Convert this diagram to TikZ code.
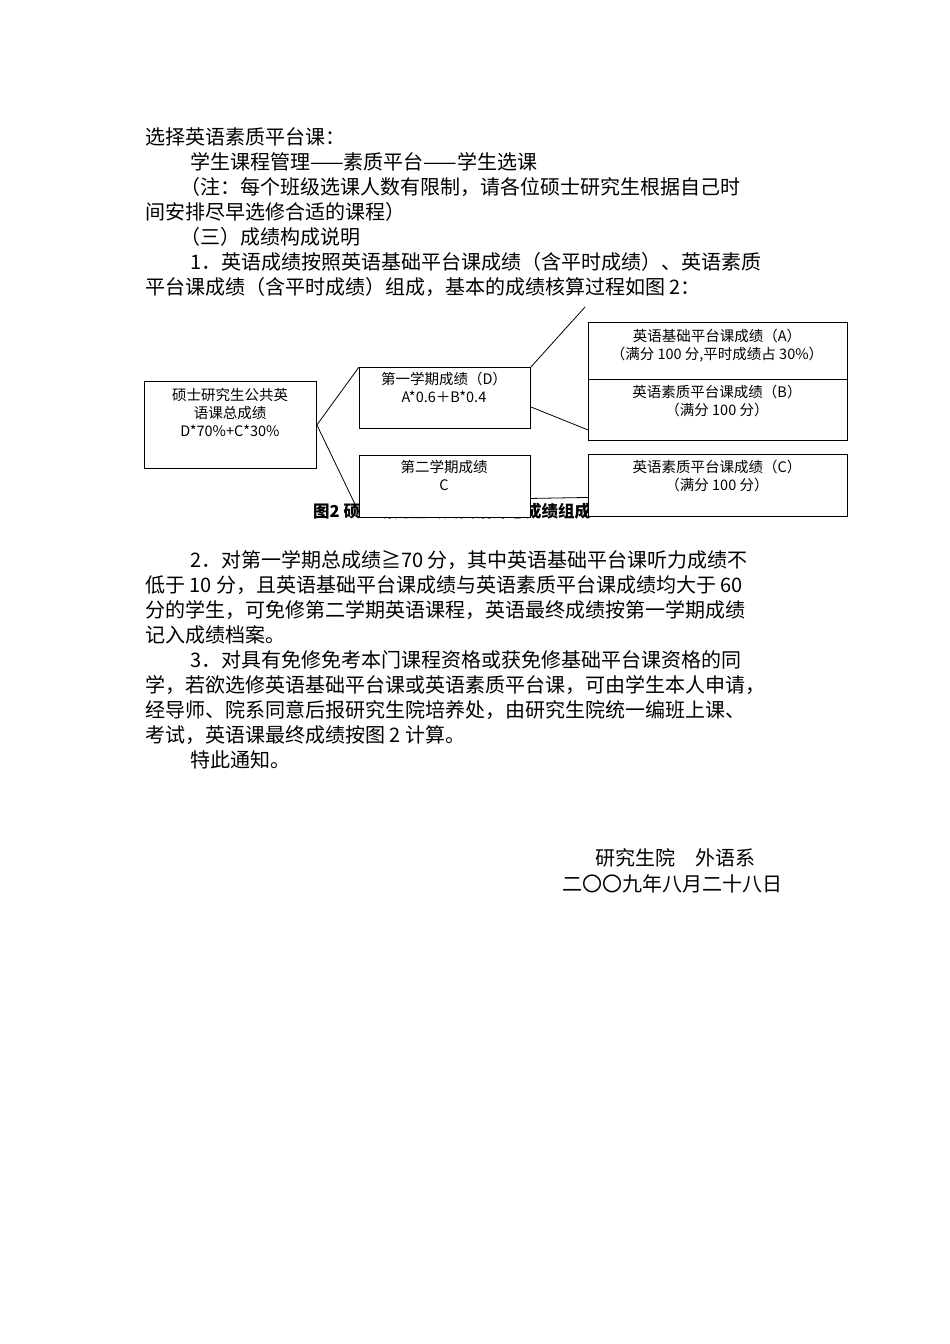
\documentclass[tikz,border=0pt]{standalone}
\usepackage{fontspec}
\setmainfont{Noto Sans CJK SC}
\begin{document}
\begin{tikzpicture}[x=1pt,y=-1pt,
  body/.style={anchor=west,inner sep=0,font=\fontsize{20}{24}\selectfont},
  bx/.style={draw,fill=white,line width=0.9pt,anchor=north west,inner sep=0},
  bt/.style={font=\fontsize{14.5}{18}\selectfont,align=center,anchor=north,inner sep=0},
  ln/.style={line width=0.8pt}]
\useasboundingbox[fill=white] (0,0) rectangle (950,1344);
\node[body] (t1) at (145,137) {选择英语素质平台课：};
\node[body] (t2) at (190,162) {学生课程管理——素质平台——学生选课};
\node[body] (t3) at (180,187) {（注：每个班级选课人数有限制，请各位硕士研究生根据自己时};
\node[body] (t4) at (145,212) {间安排尽早选修合适的课程）};
\node[body] (t5) at (180,237) {（三）成绩构成说明};
\node[body] (t6) at (190,262) {1．英语成绩按照英语基础平台课成绩（含平时成绩）、英语素质};
\node[body] (t7) at (145,287) {平台课成绩（含平时成绩）组成，基本的成绩核算过程如图 2：};
\node[anchor=west,inner sep=0,font=\fontsize{16.5}{20}\selectfont\bfseries] (cap) at (313,511) {图2 硕士研究生公共英语课总成绩组成};
% boxes
\node[bx,minimum width=172,minimum height=87] (m) at (144,381) {};
\node[bt] at (230,388) {硕士研究生公共英\\语课总成绩\\D*70\%+C*30\%};
\node[bx,minimum width=171,minimum height=61] (d) at (359,367) {};
\node[bt] at (444,372) {第一学期成绩（D）\\A*0.6＋B*0.4};
\node[bx,minimum width=171,minimum height=62] (s) at (359,455) {};
\node[bt] at (444,460) {第二学期成绩\\C};
\node[bx,minimum width=259,minimum height=57] (a) at (588,322) {};
\node[bt] at (717,329) {英语基础平台课成绩（A）\\（满分 100 分,平时成绩占 30\%）};
\node[bx,minimum width=259,minimum height=61] (b) at (588,379) {};
\node[bt] at (717,385) {英语素质平台课成绩（B）\\（满分 100 分）};
\node[bx,minimum width=259,minimum height=62] (c) at (588,454) {};
\node[bt] at (717,460) {英语素质平台课成绩（C）\\（满分 100 分）};
\coordinate (u) at (585,307);
\draw[ln] (m.east) -- (d.north west);
\draw[ln] (m.east) -- ([yshift=-26]s.west);
\draw[ln] (d.north east) -- (u);
\draw[ln] ([yshift=-9]d.east) -- ([yshift=-20]b.west);
\draw[ln] ([yshift=-12]s.east) -- ([yshift=-12]c.west);
\node[body] (p1) at (190,560) {2．对第一学期总成绩≧70 分，其中英语基础平台课听力成绩不};
\node[body] (p2) at (145,585) {低于 10 分，且英语基础平台课成绩与英语素质平台课成绩均大于 60};
\node[body] (p3) at (145,610) {分的学生，可免修第二学期英语课程，英语最终成绩按第一学期成绩};
\node[body] (p4) at (145,635) {记入成绩档案。};
\node[body] (q1) at (190,660) {3．对具有免修免考本门课程资格或获免修基础平台课资格的同};
\node[body] (q2) at (145,685) {学，若欲选修英语基础平台课或英语素质平台课，可由学生本人申请，};
\node[body] (q3) at (145,710) {经导师、院系同意后报研究生院培养处，由研究生院统一编班上课、};
\node[body] (q4) at (145,735) {考试，英语课最终成绩按图 2 计算。};
\node[body] (r1) at (190,760) {特此通知。};
\node[body] (s1) at (595,858) {研究生院　外语系};
\node[body] (s2) at (562,884) {二〇〇九年八月二十八日};
\end{tikzpicture}
\end{document}
